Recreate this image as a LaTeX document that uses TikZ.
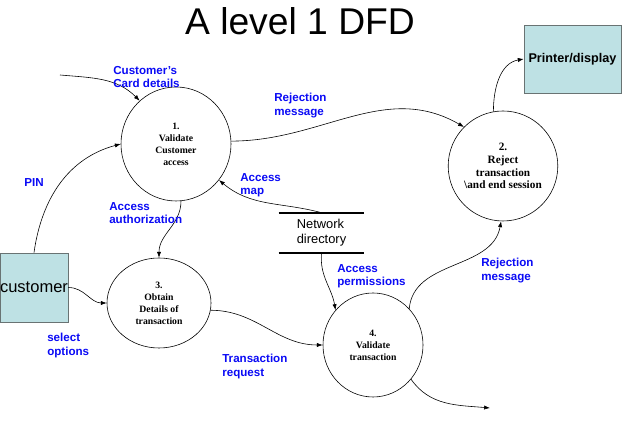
\documentclass[tikz,border=0pt]{standalone}
\usepackage{fontspec}
\setmainfont{Liberation Serif}
\setsansfont{Liberation Sans}
\usetikzlibrary{shapes.geometric,arrows.meta}
\definecolor{boxfill}{RGB}{190,225,228}
\definecolor{boxline}{RGB}{105,115,115}
\definecolor{flowblue}{RGB}{10,10,245}

\begin{document}
\begin{tikzpicture}[x=0.03cm, y=0.03cm, >={Latex[length=5pt,width=3.6pt]},
        process/.style={draw, ellipse, inner sep=0pt, align=center, line width=0.5pt,
            font=\fontsize{8.3}{10.2}\selectfont\bfseries},
        entity/.style={draw=boxline, fill=boxfill, rectangle, inner sep=0pt, line width=0.6pt},
        flow/.style={anchor=north west, inner sep=0pt, align=left, text=flowblue,
            font=\sffamily\bfseries\fontsize{9.9}{11.6}\selectfont},
        every path/.style={line width=0.5pt}]
        \useasboundingbox (0,0) rectangle (640,431);

        \node (title) at (300,410) {\sffamily\fontsize{31.8}{36}\selectfont A level 1 DFD};

        \node (v1) [process, minimum width=3.3cm, minimum height=3.42cm] at (176,287) {1.\\Validate\\Customer\\access};
        \node (v2) [process, minimum width=3.12cm, minimum height=3.3cm, font=\fontsize{9.6}{11}\selectfont\bfseries] at (503,265) {2.\\Reject\\transaction\\\textbackslash{}and end session};
        \node (v3) [process, minimum width=3.12cm, minimum height=2.7cm] at (159,128) {3.\\Obtain\\Details of\\transaction};
        \node (v4) [process, minimum width=3.0cm, minimum height=3.12cm] at (373,86) {4.\\Validate\\transaction};

        \node (cust) [entity, minimum width=2.04cm, minimum height=2.07cm] at (34,143.5) {\sffamily\fontsize{14.1}{16}\selectfont customer};
        \node (printer) [entity, minimum width=2.91cm, minimum height=2.04cm] at (572.5,372) {\sffamily\bfseries\fontsize{10.8}{12}\selectfont Printer/display};
        \node (netdir) [rectangle, inner sep=0pt, minimum width=2.55cm, minimum height=1.2cm, align=left,
            font=\sffamily\fontsize{11}{13}\selectfont] at (321.5,198) {Network\\directory};
        \draw[line width=1.6pt] (netdir.north west) -- (netdir.north east);
        \draw[line width=1.6pt] (netdir.south west) -- (netdir.south east);

        \coordinate (cardsrc) at (60,356);
        \coordinate (out) at (490,23);

        % flows
        \draw[->] (cardsrc) to[out=-5,in=135] (v1.130);
        \draw[->] (cust.north) to[out=82,in=195] (v1.west);
        \draw[->] (v1.3) to[out=0,in=150] (v2.135);
        \draw[->] (netdir.north) to[out=165,in=-40] (v1.-40);
        \draw[->] (v1.-85) to[out=-90,in=90] (v3.north);
        \draw[->] (cust.east) to[out=0,in=180] (v3.west);
        \draw[->] (v3.-8) to[out=0,in=180] (v4.west);
        \draw[->] (netdir.south) to[out=-95,in=100] (v4.137);
        \draw[->] (v4.45) to[out=85,in=-100] (v2.-92);
        \draw[->] (v2.100) to[out=90,in=190] (printer.west);
        \draw[->] (v4.-42) to[out=-55,in=175] (out);

        % labels
        \node (lcard) [flow] at (113,365) {Customer's\\Card details};
        \node (lrej1) [flow] at (274,338) {Rejection\\message};
        \node (lpin) [flow] at (24,253) {PIN};
        \node (lmap) [flow] at (240,258) {Access\\map};
        \node (lauth) [flow] at (109,229) {Access\\authorization};
        \node (lperm) [flow] at (337,167) {Access\\permissions};
        \node (ltrans) [flow] at (222,77) {Transaction\\request};
        \node (lrej2) [flow] at (481,173) {Rejection\\message};
        \node (lsel) [flow] at (47,98) {select\\options};
\end{tikzpicture}
\end{document}
